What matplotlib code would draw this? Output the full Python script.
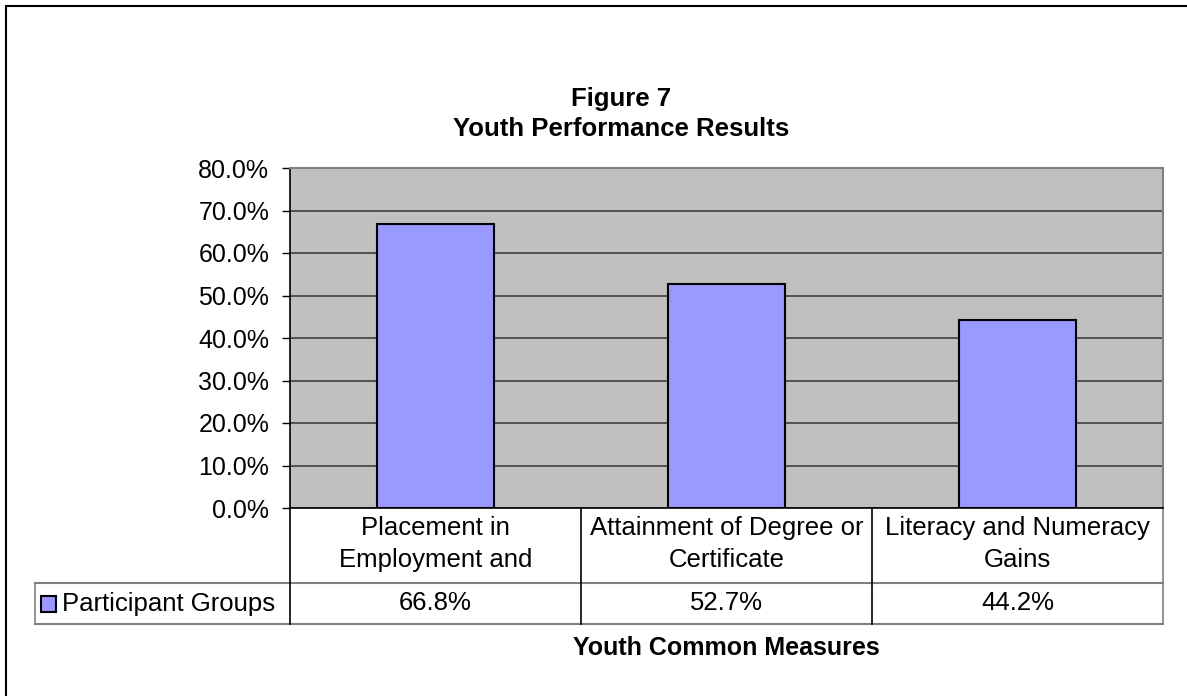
import matplotlib
matplotlib.use("Agg")
import matplotlib.pyplot as plt
from matplotlib.patches import Rectangle
from matplotlib.lines import Line2D
from matplotlib.ticker import FuncFormatter

plt.rcParams['font.family'] = ['Liberation Sans', 'DejaVu Sans']

# --- data ---
categories = ["Placement in\nEmployment and",
              "Attainment of Degree or\nCertificate",
              "Literacy and Numeracy\nGains"]
values = [66.8, 52.7, 44.2]
value_labels = ["66.8%", "52.7%", "44.2%"]
series_name = "Participant Groups"
title = "Figure 7\nYouth Performance Results"
xlabel = "Youth Common Measures"
yticks = [0, 10, 20, 30, 40, 50, 60, 70, 80]

W, H = 1187, 696
fig = plt.figure(figsize=(W / 100, H / 100), dpi=100)
fig.patch.set_facecolor('white')

# chart area border (right/bottom fall off the picture)
fig.add_artist(Rectangle((6 / W, -0.1), 1.2, 1 - 6 / H + 0.1, transform=fig.transFigure,
                         fill=False, edgecolor='black', linewidth=1.5))

ax = fig.add_axes([290 / W, 1 - 508 / H, 873 / W, 340 / H])
ax.set_facecolor('#C0C0C0')

x = list(range(len(categories)))
ax.bar(x, values, width=0.4, color='#9999FF', edgecolor='black', linewidth=1.5, zorder=3)

ax.set_xlim(-0.5, len(categories) - 0.5)
ax.set_ylim(0, 80)
ax.set_yticks(yticks)
ax.yaxis.set_major_formatter(FuncFormatter(lambda v, p: f"{v:.1f}%"))
ax.tick_params(axis='y', direction='out', length=6, width=1, pad=9, labelsize=18)
ax.set_xticks([])
ax.grid(axis='y', color='#404040', linewidth=1.2, zorder=1)
ax.set_axisbelow(True)

for side in ['top', 'right']:
    ax.spines[side].set_color('#808080')
    ax.spines[side].set_linewidth(1.5)
for side in ['left', 'bottom']:
    ax.spines[side].set_color('black')
    ax.spines[side].set_linewidth(1.2)

# --- data table under the axis ---
row1 = -75 / 340
row2 = -116 / 340
leg_left = (35 - 290) / 873
xt = ax.get_xaxis_transform()
n = len(categories)

def hline(x0, x1, y, trans_x_data=True, color='#808080'):
    tr = xt if trans_x_data else ax.transAxes
    ax.add_line(Line2D([x0, x1], [y, y], transform=tr, color=color,
                       linewidth=1.5, clip_on=False))

def vline(xv, y0, y1, trans_x_data=True, color='black'):
    tr = xt if trans_x_data else ax.transAxes
    ax.add_line(Line2D([xv, xv], [y0, y1], transform=tr, color=color,
                       linewidth=1.2, clip_on=False))

hline(-0.5, n - 0.5, row1)
hline(-0.5, n - 0.5, row2)
hline(leg_left, 0, row1, trans_x_data=False)
hline(leg_left, 0, row2, trans_x_data=False)
vline(leg_left, row2, row1, trans_x_data=False, color='#808080')
for b in range(n):
    vline(b - 0.5, row2, 0, color='black')
vline(n - 0.5, row2, 0, color='#808080')

for i, (cat, lab) in enumerate(zip(categories, value_labels)):
    ax.text(i, row1 / 2 + 1.5 / 340, cat, transform=xt, ha='center', va='center',
            fontsize=18.5, linespacing=1.4)
    ax.text(i, (row1 + row2) / 2, lab, transform=xt, ha='center', va='center',
            fontsize=18.5)

# legend key inside the table
ymid = (row1 + row2) / 2
ax.add_patch(Rectangle((leg_left + 6 / 873, ymid - 8 / 340), 15 / 873, 16 / 340,
                       transform=ax.transAxes, facecolor='#9999FF', edgecolor='black',
                       linewidth=1.5, clip_on=False))
ax.text(leg_left + 27 / 873, ymid, series_name, transform=ax.transAxes,
        ha='left', va='center', fontsize=18.5)

ax.text(0.5, -140 / 340, xlabel, transform=ax.transAxes, ha='center', va='center',
        fontsize=18, fontweight='bold')

fig.text(621 / W, 1 - 114 / H, title, ha='center', va='center',
         fontsize=18.5, fontweight='bold', linespacing=1.3)

fig.savefig("out.png", dpi=100)
